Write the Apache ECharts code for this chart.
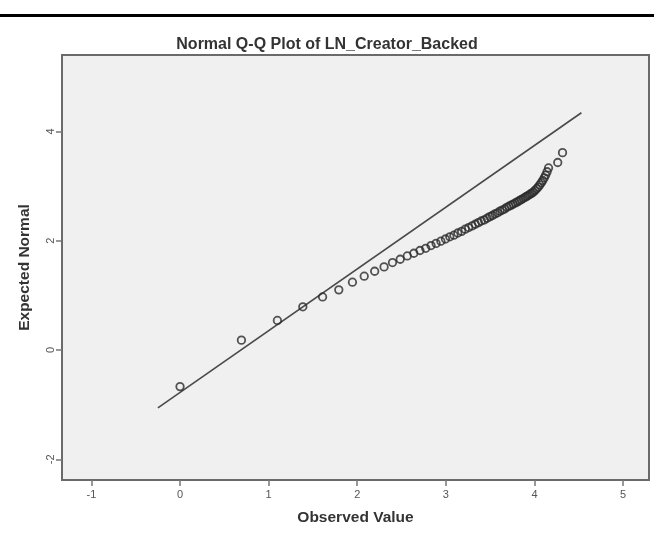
<!DOCTYPE html>
<html>
<head>
<meta charset="utf-8">
<script src="https://cdn.jsdelivr.net/npm/echarts@6/dist/echarts.min.js"></script>
<style>
  html, body { margin: 0; padding: 0; background: #ffffff; }
  #chart { width: 654px; height: 533px; }
</style>
</head>
<body>
<div id="chart"></div>
<script>
// Observed values (log of creator backing counts) and their expected normal scores
var observed = [
  0.000, 0.693, 1.099, 1.386, 1.609, 1.792, 1.946, 2.079, 2.197, 2.303,
  2.398, 2.485, 2.565, 2.639, 2.708, 2.773, 2.833, 2.890, 2.944, 2.996,
  3.045, 3.091, 3.135, 3.178, 3.219, 3.258, 3.296, 3.332, 3.367, 3.401,
  3.434, 3.466, 3.497, 3.526, 3.555, 3.584, 3.611, 3.638, 3.664, 3.689,
  3.714, 3.738, 3.761, 3.784, 3.807, 3.829, 3.850, 3.871, 3.892, 3.912,
  3.932, 3.951, 3.970, 3.989, 4.007, 4.025, 4.043, 4.060, 4.078, 4.094,
  4.111, 4.127, 4.143, 4.159, 4.263, 4.317
];
var expectedNormal = [
  -0.67, 0.18, 0.54, 0.79, 0.97, 1.10, 1.24, 1.35, 1.44, 1.52,
  1.60, 1.66, 1.72, 1.77, 1.82, 1.86, 1.91, 1.95, 1.99, 2.03,
  2.07, 2.10, 2.14, 2.17, 2.21, 2.24, 2.27, 2.30, 2.33, 2.36,
  2.38, 2.41, 2.44, 2.46, 2.49, 2.51, 2.54, 2.56, 2.58, 2.61,
  2.63, 2.65, 2.67, 2.69, 2.71, 2.73, 2.75, 2.77, 2.79, 2.81,
  2.83, 2.85, 2.87, 2.89, 2.92, 2.95, 2.98, 3.02, 3.06, 3.10,
  3.15, 3.20, 3.26, 3.33, 3.43, 3.61
];
// Reference line endpoints (observed, expected)
var refLineX = [-0.25, 4.53];
var refLineY = [-1.06, 4.34];
// Tick labels
var xTicks = [-1, 0, 1, 2, 3, 4, 5];
var yTicks = [-2, 0, 2, 4];

var points = observed.map(function (v, i) { return [v, expectedNormal[i]]; });
var refLine = refLineX.map(function (v, i) { return [v, refLineY[i]]; });

var FONT = '"Liberation Sans", Arial, sans-serif';

var chart = echarts.init(document.getElementById('chart'), null, { renderer: 'canvas' });
chart.setOption({
  animation: false,
  backgroundColor: '#ffffff',
  title: {
    text: 'Normal Q-Q Plot of LN_Creator_Backed',
    left: 'center',
    top: 32,
    textStyle: { fontFamily: FONT, fontSize: 16, fontWeight: 'bold', color: '#333333' }
  },
  graphic: [
    { type: 'rect', left: 0, top: 14, shape: { width: 654, height: 3 }, style: { fill: '#000000' } }
  ],
  grid: {
    left: 62, right: 5, top: 55, bottom: 53,
    show: true,
    backgroundColor: '#f0f0f0',
    borderColor: '#6a6a6a',
    borderWidth: 2
  },
  xAxis: {
    type: 'value',
    min: -1.332, max: 5.293,
    name: 'Observed Value',
    nameLocation: 'middle',
    nameGap: 30,
    nameTextStyle: { fontFamily: FONT, fontSize: 15.5, fontWeight: 'bold', color: '#333333' },
    axisLine: { show: true, onZero: false, lineStyle: { color: '#6a6a6a', width: 2 } },
    axisTick: { show: true, length: 6, customValues: xTicks, lineStyle: { color: '#777777', width: 1.5 } },
    axisLabel: { customValues: xTicks, margin: 9, fontFamily: FONT, fontSize: 11, color: '#555555' },
    splitLine: { show: false }
  },
  yAxis: {
    type: 'value',
    min: -2.378, max: 5.396,
    name: 'Expected Normal',
    nameLocation: 'middle',
    nameGap: 29,
    nameTextStyle: { fontFamily: FONT, fontSize: 15.5, fontWeight: 'bold', color: '#333333' },
    axisLine: { show: true, onZero: false, lineStyle: { color: '#6a6a6a', width: 2 } },
    axisTick: { show: true, length: 6, customValues: yTicks, lineStyle: { color: '#777777', width: 1.5 } },
    axisLabel: { customValues: yTicks, rotate: 90, margin: 6, fontFamily: FONT, fontSize: 11, color: '#555555' },
    splitLine: { show: false }
  },
  series: [
    {
      type: 'line',
      data: refLine,
      symbol: 'none',
      silent: true,
      z: 2,
      lineStyle: { color: '#4a4a4a', width: 1.6 }
    },
    {
      type: 'scatter',
      data: points,
      symbol: 'circle',
      symbolSize: 7.5,
      z: 3,
      itemStyle: { color: 'rgba(0,0,0,0)', borderColor: '#2b2b2b', borderWidth: 1.8 }
    }
  ]
});
</script>
</body>
</html>
